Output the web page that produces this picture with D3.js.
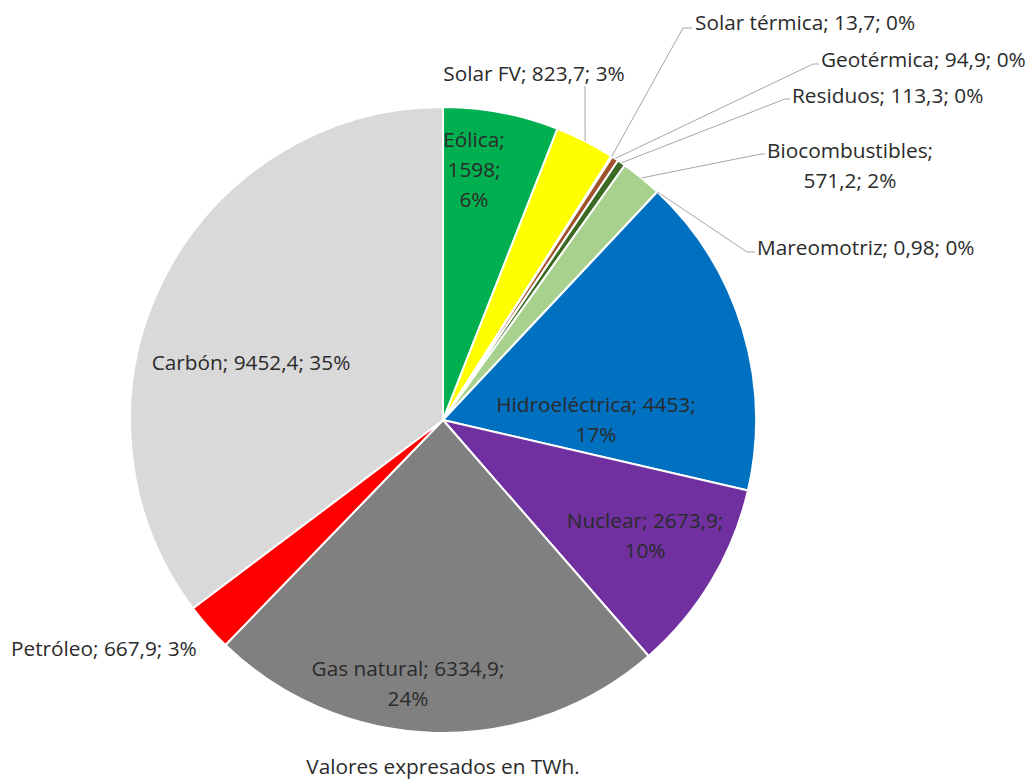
<!DOCTYPE html>
<html>
<head>
<meta charset="utf-8">
<script src="https://cdn.jsdelivr.net/npm/d3@7"></script>
<style>
  body { margin: 0; background: #fff; }
  svg { display: block; }
  text { font-family: "Open Sans", sans-serif; font-size: 20.8px; fill: #2b2b2b; }
</style>
</head>
<body>
<svg width="1036" height="779"></svg>
<script>
// energy sources, TWh (clockwise from 12 o'clock)
var sources = ["Eólica", "Solar FV", "Solar térmica", "Geotérmica", "Residuos", "Biocombustibles",
               "Mareomotriz", "Hidroeléctrica", "Nuclear", "Gas natural", "Petróleo", "Carbón"];
var values = [1598, 823.7, 13.7, 94.9, 113.3, 571.2, 0.98, 4453, 2673.9, 6334.9, 667.9, 9452.4];
var shownPct = [6, 3, 0, 0, 0, 2, 0, 17, 10, 24, 3, 35];
var colors = ["#00b050", "#ffff00", "#ed7d31", "#a0522d", "#3b6b22", "#a9d18e",
              "#5b9bd5", "#0070c0", "#7030a0", "#808080", "#ff0000", "#d9d9d9"];

// label layout: text anchor point, how the parts break into lines, and leader elbow (if any)
var labelLayout = [
    {x: 474, y: 139, anchor: "middle", lines: [[0], [1], [2]]},
    {x: 534, y: 73, anchor: "middle", lines: [[0, 1, 2]], leader: [[585, 86]]},
    {x: 695, y: 22, anchor: "start", lines: [[0, 1, 2]], leader: [[683, 28], [692, 28]]},
    {x: 821, y: 59, anchor: "start", lines: [[0, 1, 2]], leader: [[813, 64], [819, 64]]},
    {x: 792, y: 95, anchor: "start", lines: [[0, 1, 2]], leader: [[785, 99], [790, 99]]},
    {x: 850, y: 150, anchor: "middle", lines: [[0], [1, 2]], leader: [[761, 154], [765, 154]]},
    {x: 757, y: 247, anchor: "start", lines: [[0, 1, 2]], leader: [[747, 252], [755, 252]]},
    {x: 596, y: 404, anchor: "middle", lines: [[0, 1], [2]]},
    {x: 645, y: 520, anchor: "middle", lines: [[0, 1], [2]]},
    {x: 408, y: 668, anchor: "middle", lines: [[0, 1], [2]]},
    {x: 11, y: 648, anchor: "start", lines: [[0, 1, 2]]},
    {x: 251, y: 362, anchor: "middle", lines: [[0, 1, 2]]}
];

var svg = d3.select("svg");
var cx = 443, cy = 420, radius = 313, lineH = 30;

var pie = d3.pie().sort(null).value(function (d) { return d; });
var arcs = pie(values);

var arc = d3.arc().innerRadius(0).outerRadius(radius);
var edge = d3.arc().innerRadius(radius).outerRadius(radius);

var g = svg.append("g").attr("transform", "translate(" + cx + "," + cy + ")");

g.selectAll("path.slice")
    .data(arcs)
    .enter()
    .append("path")
    .attr("class", "slice")
    .attr("d", arc)
    .attr("fill", function (d, i) { return colors[i]; })
    .attr("stroke", "#fff")
    .attr("stroke-width", 2)
    .attr("stroke-linejoin", "round");

// leader lines
arcs.forEach(function (d, i) {
    var lay = labelLayout[i];
    if (!lay.leader) return;
    var p = edge.centroid(d);
    var pts = [[cx + p[0], cy + p[1]]].concat(lay.leader);
    svg.append("path")
        .attr("d", d3.line()(pts))
        .attr("fill", "none")
        .attr("stroke", "#a6a6a6")
        .attr("stroke-width", 1);
});

// labels
function fmt(v) { return String(v).replace(".", ","); }

sources.forEach(function (name, i) {
    var parts = [name, fmt(values[i]), shownPct[i] + "%"];
    var lay = labelLayout[i];
    var t = svg.append("text")
        .attr("text-anchor", lay.anchor)
        .attr("dominant-baseline", "central");
    lay.lines.forEach(function (idx, k) {
        var s = idx.map(function (j) { return parts[j]; }).join("; ");
        if (idx[idx.length - 1] < 2) s += ";";
        t.append("tspan")
            .attr("x", lay.x)
            .attr("y", lay.y + k * lineH)
            .text(s);
    });
});

svg.append("text")
    .attr("x", cx)
    .attr("y", 766)
    .attr("text-anchor", "middle")
    .attr("dominant-baseline", "central")
    .text("Valores expresados en TWh.");
</script>
</body>
</html>
